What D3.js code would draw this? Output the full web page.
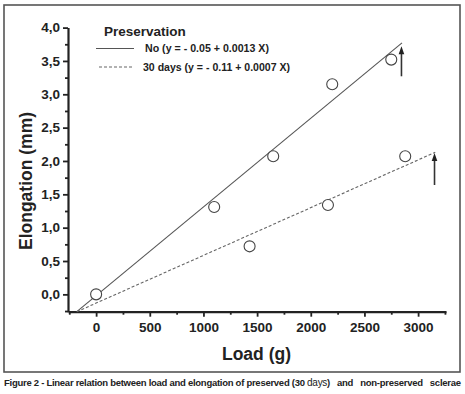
<!DOCTYPE html>
<html><head><meta charset="utf-8">
<script src="https://cdn.jsdelivr.net/npm/d3@7/dist/d3.min.js"></script>
<style>
html,body{margin:0;padding:0;background:#fff;}
svg{display:block;font-family:"Liberation Sans",Arial,Helvetica,sans-serif;}
</style></head>
<body>
<script>
// ---- data ----
const loadValues = [0, 1100, 1430, 1650, 2160, 2200, 2750, 2880];
const elongValues = [0.00, 1.31, 0.72, 2.07, 1.34, 3.15, 3.52, 2.07];
const fitNoLoad = [-180, 2850];
const fitNoElong = [-0.26, 3.77];
const fit30Load = [-180, 3160];
const fit30Elong = [-0.26, 2.13];
const arrowLoad = [2845, 3153];
const arrowFrom = [3.27, 1.64];
const arrowTo = [3.72, 2.12];
const xMajorTicks = [0, 500, 1000, 1500, 2000, 2500, 3000];
const xMinorTicks = [-250, 250, 750, 1250, 1750, 2250, 2750, 3250];
const yMajorTicks = [0, 0.5, 1.0, 1.5, 2.0, 2.5, 3.0, 3.5, 4.0];
const yMinorTicks = [-0.25, 0.25, 0.75, 1.25, 1.75, 2.25, 2.75, 3.25, 3.75];
const legendTitle = "Preservation";
const legendLabels = ["No (y = - 0.05 + 0.0013 X)", "30 days (y = - 0.11 + 0.0007 X)"];
const xTitle = "Load (g)";
const yTitle = "Elongation (mm)";

const W = 465, H = 394;
const svg = d3.select("body").append("svg").attr("width", W).attr("height", H);

// frame
svg.append("rect").attr("x", 4).attr("y", 5).attr("width", 456).attr("height", 367)
  .attr("fill", "none").attr("stroke", "#555").attr("stroke-width", 1.6);

const x = d3.scaleLinear().domain([-262, 3260]).range([68, 446]);
const y = d3.scaleLinear().domain([-0.26, 4.0]).range([311.7, 27.6]);

const fmt = d => d3.format(".1f")(d).replace(".", ",");

// y axis
svg.append("g").attr("transform", `translate(${x.range()[0]},0)`)
  .call(d3.axisLeft(y).tickValues(yMajorTicks).tickFormat(fmt).tickSize(5).tickPadding(3).tickSizeOuter(0));
svg.append("g").attr("transform", `translate(${x.range()[0]},0)`)
  .call(d3.axisLeft(y).tickValues(yMinorTicks).tickFormat("").tickSize(3).tickSizeOuter(0))
  .select(".domain").remove();
// x axis
svg.append("g").attr("transform", `translate(0,${y.range()[0]})`)
  .call(d3.axisBottom(x).tickValues(xMajorTicks).tickFormat(d3.format("d")).tickSize(5).tickPadding(6).tickSizeOuter(0));
svg.append("g").attr("transform", `translate(0,${y.range()[0]})`)
  .call(d3.axisBottom(x).tickValues(xMinorTicks).tickFormat("").tickSize(3).tickSizeOuter(0))
  .select(".domain").remove();

svg.selectAll(".domain").attr("stroke", "#222").attr("stroke-width", 2.2);
svg.selectAll(".tick line").attr("stroke", "#222").attr("stroke-width", 1.8);
svg.selectAll(".tick text").attr("fill", "#222").attr("font-size", 13.5).attr("font-weight", "bold")
  .attr("font-family", "Liberation Sans, Arial, sans-serif");

// fit lines
const line = d3.line().x(d => x(d[0])).y(d => y(d[1]));
svg.append("path").datum(d3.zip(fitNoLoad, fitNoElong)).attr("d", line)
  .attr("fill", "none").attr("stroke", "#555").attr("stroke-width", 1.1);
svg.append("path").datum(d3.zip(fit30Load, fit30Elong)).attr("d", line)
  .attr("fill", "none").attr("stroke", "#666").attr("stroke-width", 1.1).attr("stroke-dasharray", "3,2");

// points
svg.selectAll("circle.pt").data(d3.zip(loadValues, elongValues)).join("circle")
  .attr("class", "pt").attr("cx", d => x(d[0])).attr("cy", d => y(d[1])).attr("r", 5.5)
  .attr("fill", "#fff").attr("stroke", "#444").attr("stroke-width", 1.1);

// arrows
arrowLoad.forEach((a, i) => {
  const ax = x(a), y0 = y(arrowFrom[i]), y1 = y(arrowTo[i]);
  svg.append("line").attr("x1", ax).attr("x2", ax).attr("y1", y0).attr("y2", y1 + 6)
    .attr("stroke", "#333").attr("stroke-width", 1.6);
  svg.append("path").attr("d", `M${ax},${y1} L${ax - 2.8},${y1 + 8} L${ax + 2.8},${y1 + 8} Z`).attr("fill", "#222");
});

// legend
svg.append("text").attr("x", 104).attr("y", 36).attr("font-size", 13.5).attr("font-weight", "bold")
  .attr("fill", "#222").text(legendTitle);
svg.append("line").attr("x1", 96).attr("x2", 134).attr("y1", 48.5).attr("y2", 48.5)
  .attr("stroke", "#555").attr("stroke-width", 1.1);
svg.append("line").attr("x1", 99).attr("x2", 134).attr("y1", 67).attr("y2", 67)
  .attr("stroke", "#666").attr("stroke-width", 1.1).attr("stroke-dasharray", "3,2");
svg.append("text").attr("x", 145).attr("y", 52).attr("font-size", 11).attr("font-weight", "bold")
  .attr("fill", "#222").attr("textLength", 124).attr("lengthAdjust", "spacingAndGlyphs").text(legendLabels[0]);
svg.append("text").attr("x", 143).attr("y", 70.5).attr("font-size", 11).attr("font-weight", "bold")
  .attr("fill", "#222").attr("textLength", 147).attr("lengthAdjust", "spacingAndGlyphs").text(legendLabels[1]);

// axis titles
svg.append("text").attr("x", 256.5).attr("y", 360).attr("text-anchor", "middle")
  .attr("font-size", 17.5).attr("font-weight", "bold").attr("fill", "#222").text(xTitle);
svg.append("text").attr("transform", "translate(32,181) rotate(-90)").attr("text-anchor", "middle")
  .attr("font-size", 17.5).attr("font-weight", "bold").attr("fill", "#222").text(yTitle);

// caption
const cap = svg.append("text").attr("x", 4).attr("y", 385.5).attr("font-size", 9.5).attr("font-weight", "bold")
  .attr("fill", "#222").style("white-space", "pre").attr("textLength", 457).attr("lengthAdjust", "spacing");
cap.append("tspan").text("Figure 2 - Linear relation between load and elongation of preserved (30 ");
cap.append("tspan").attr("font-weight", "normal").attr("font-size", 10).text("days");
cap.append("tspan").text(")   and   non-preserved   sclerae");
</script>
</body></html>
